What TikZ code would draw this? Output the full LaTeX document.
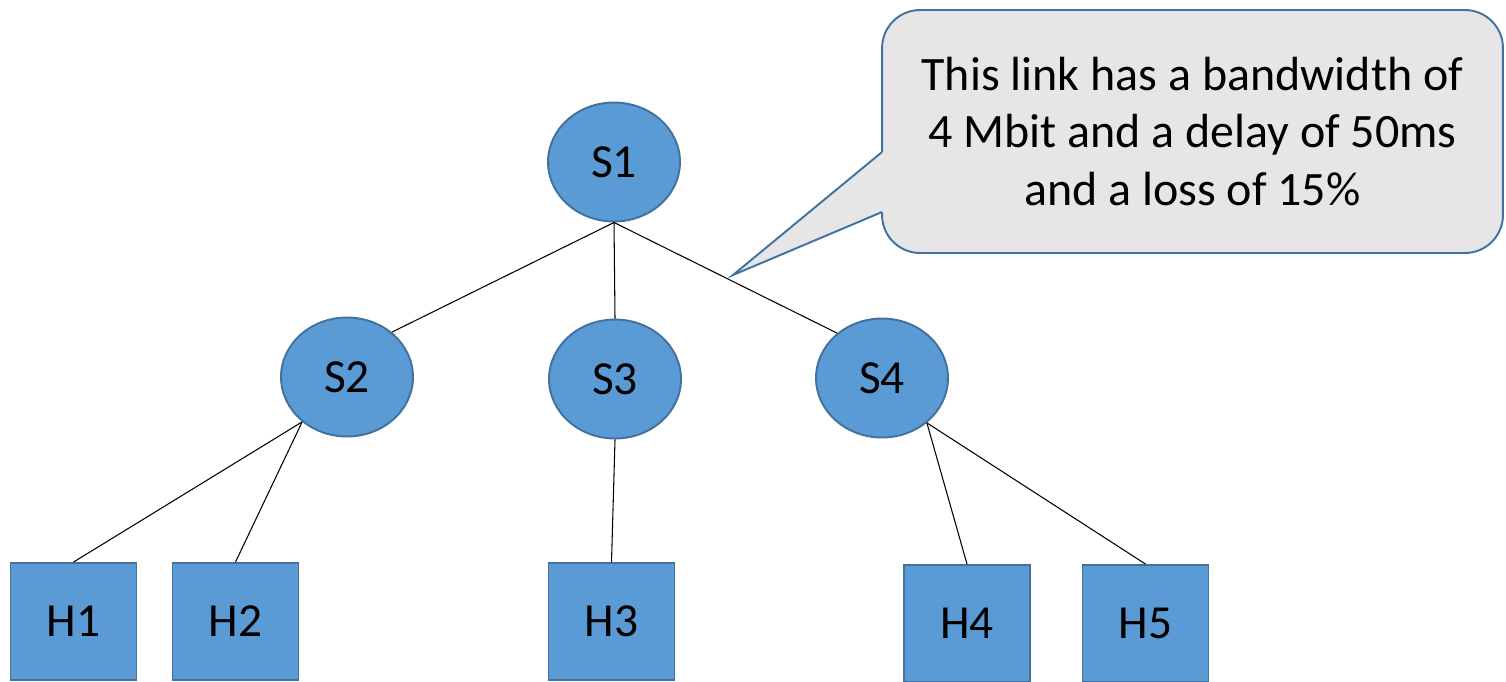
\documentclass[tikz,border=0pt]{standalone}
\usepackage{fontspec}
\setmainfont{Carlito}
\usetikzlibrary{shapes.geometric}
\definecolor{nodefill}{HTML}{5B9BD5}
\definecolor{nodeline}{HTML}{41719C}
\definecolor{callfill}{HTML}{E7E6E6}
\begin{document}
\begin{tikzpicture}[x=0.02cm,y=-0.02cm,
  switch/.style={ellipse, fill=nodefill, draw=nodeline, line width=1.1pt,
    minimum width=2.64cm, minimum height=2.38cm, inner sep=0pt,
    font=\fontsize{27}{32}\selectfont},
  host/.style={rectangle, fill=nodefill, draw=nodeline, line width=1.1pt,
    minimum width=2.52cm, minimum height=2.34cm, inner sep=0pt,
    font=\fontsize{27}{32}\selectfont},
  link/.style={draw=black, line width=0.6pt},
  calloutbox/.style={rectangle, rounded corners=0.76cm, fill=callfill, draw=nodeline,
    line width=1.1pt, minimum width=12.42cm, minimum height=4.86cm, align=center,
    font=\fontsize{27.3}{32.6}\selectfont},
  pointer/.style={draw=nodeline, line width=1.1pt, line join=miter}]
\useasboundingbox (0,0) rectangle (1506,681);

% switches
\node[switch] (S1) at (614,162) {S1};
\node[switch] (S2) at (347,377) {S2};
\node[switch] (S3) at (615,379) {S3};
\node[switch] (S4) at (882,378) {S4};

% hosts
\node[host] (H1) at (73.5,621.5) {H1};
\node[host] (H2) at (235.5,621.5) {H2};
\node[host] (H3) at (611.5,621.5) {H3};
\node[host] (H4) at (967,623.5) {H4};
\node[host] (H5) at (1145.5,623.5) {H5};

% links
\draw[link] (S1.south) -- (S2.45);
\draw[link] (S1.south) -- (S3.north);
\draw[link] (S1.south) -- (S4.135);
\draw[link] (S2.-135) -- (H1.north);
\draw[link] (S2.-135) -- (H2.north);
\draw[link] (S3.south) -- (H3.north);
\draw[link] (S4.-45) -- (H4.north);
\draw[link] (S4.-45) -- (H5.north);

% callout
\node[calloutbox] (C) at (1192.5,131.5) {This link has a bandwidth of\\4 Mbit and a delay of 50ms\\and a loss of 15\%};
\coordinate (p1) at (882,152);
\coordinate (p2) at (882,212);
\coordinate (tip) at (733,275);
\fill[callfill] (p1) -- (tip) -- (p2) -- (886,212) -- (886,152) -- cycle;
\draw[pointer] (p1) -- (tip) -- (p2);
\end{tikzpicture}
\end{document}
